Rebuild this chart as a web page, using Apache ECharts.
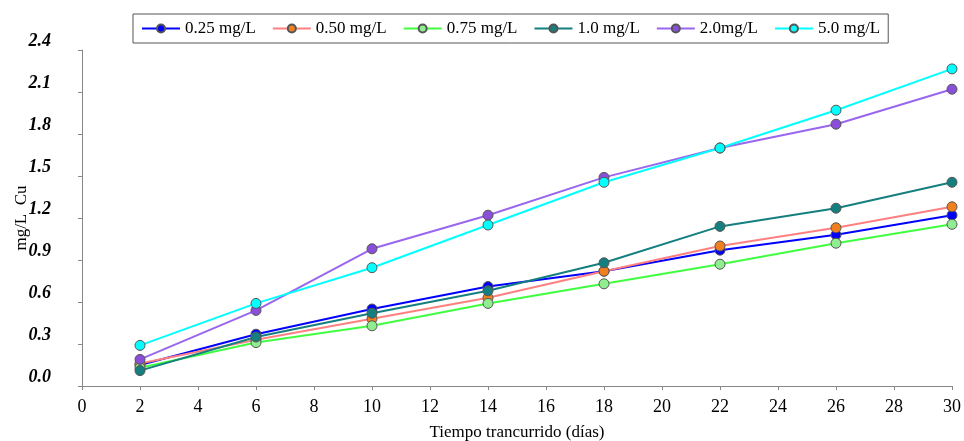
<!DOCTYPE html>
<html>
<head>
<meta charset="utf-8">
<script src="https://cdn.jsdelivr.net/npm/echarts@6/dist/echarts.min.js"></script>
<style>
  html, body { margin: 0; padding: 0; background: #fff; }
  #chart { width: 964px; height: 441px; }
</style>
</head>
<body>
<div id="chart"></div>
<script>
var dias = [2, 6, 10, 14, 18, 22, 26, 30];
var c025 = [0.15, 0.37, 0.55, 0.71, 0.82, 0.97, 1.08, 1.22];
var c050 = [0.16, 0.33, 0.48, 0.63, 0.82, 1.00, 1.13, 1.28];
var c075 = [0.13, 0.31, 0.43, 0.59, 0.73, 0.87, 1.02, 1.155];
var c10 = [0.11, 0.35, 0.52, 0.68, 0.88, 1.14, 1.27, 1.455];
var c20 = [0.19, 0.54, 0.98, 1.22, 1.49, 1.70, 1.87, 2.12];
var c50 = [0.29, 0.59, 0.845, 1.15, 1.455, 1.70, 1.97, 2.265];

var serif = 'Liberation Serif';

function pares(vals) {
    return dias.map(function (d, i) { return [d, vals[i]]; });
}

function serie(nombre, vals, linea, punto) {
    return {
        name: nombre,
        type: 'line',
        data: pares(vals),
        symbol: 'circle',
        symbolSize: 10,
        lineStyle: { color: linea, width: 2 },
        itemStyle: { color: punto, borderColor: '#555', borderWidth: 1 }
    };
}

var box = echarts.init(document.getElementById('chart'));

var option = {
    animation: false,
    legend: {
        left: 133,
        top: 14,
        padding: [6, 8],
        itemGap: 16,
        itemWidth: 38,
        itemHeight: 10,
        borderColor: '#555',
        borderWidth: 1,
        borderRadius: 0,
        textStyle: { fontFamily: serif, fontSize: 17, color: '#000' }
    },
    grid: {
        left: 82,
        right: 12,
        top: 50,
        bottom: 55,
        outerBoundsMode: 'none'
    },
    xAxis: {
        type: 'value',
        min: 0,
        max: 30,
        interval: 2,
        offset: 5,
        name: 'Tiempo trancurrido (días)',
        nameLocation: 'middle',
        nameGap: 33,
        nameMoveOverlap: false,
        nameTextStyle: { fontFamily: serif, fontSize: 17, color: '#000' },
        axisLine: { lineStyle: { color: '#888' } },
        axisTick: { length: 4, lineStyle: { color: '#888' } },
        splitLine: { show: false },
        axisLabel: { fontFamily: serif, fontSize: 18, color: '#000', margin: 7 }
    },
    yAxis: {
        type: 'value',
        min: 0,
        max: 2.4,
        interval: 0.3,
        offset: 5,
        name: 'mg/L  Cu',
        nameLocation: 'middle',
        nameGap: 47,
        nameMoveOverlap: false,
        nameTextStyle: { fontFamily: serif, fontSize: 17, color: '#000' },
        axisLine: { show: true, lineStyle: { color: '#888' } },
        axisTick: { show: true, length: 4, lineStyle: { color: '#888' } },
        splitLine: { show: false },
        axisLabel: {
            fontFamily: serif,
            fontSize: 18,
            fontWeight: 'bold',
            fontStyle: 'italic',
            color: '#000',
            margin: 26,
            verticalAlign: 'bottom',
            formatter: function (v) { return v.toFixed(1); }
        }
    },
    series: [
        serie('0.25 mg/L', c025, '#0000ff', '#0000ff'),
        serie('0.50 mg/L', c050, '#ff8080', '#f07f1e'),
        serie('0.75 mg/L', c075, '#40ff40', '#90ee90'),
        serie('1.0 mg/L', c10, '#157f7f', '#157f7f'),
        serie('2.0mg/L', c20, '#9966ee', '#8a4fd8'),
        serie('5.0 mg/L', c50, '#00ffff', '#00ffff')
    ]
};
box.setOption(option);
</script>
</body>
</html>
